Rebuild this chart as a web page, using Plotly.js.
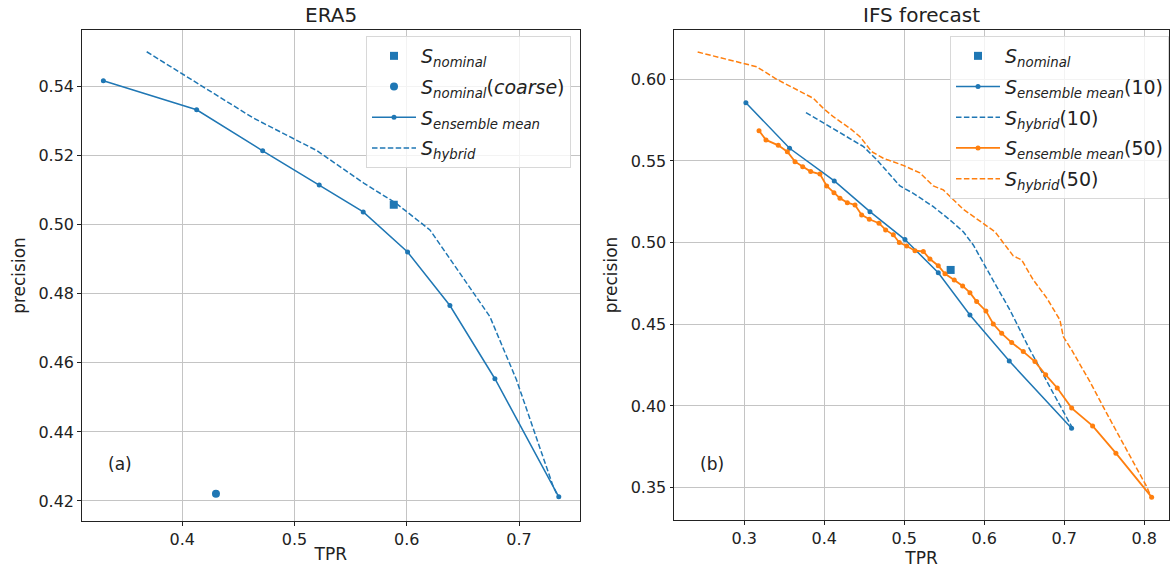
<!DOCTYPE html>
<html>
<head>
<meta charset="utf-8">
<script src="https://cdn.plot.ly/plotly-3.0.1.min.js"></script>
<style>html,body{margin:0;padding:0;background:#fff;}#chart{width:1170px;height:569px;}</style>
</head>
<body>
<div id="chart"></div>
<script>
// ---------- (a) ERA5 ----------
const era5NominalTPR = [0.5884];
const era5NominalPrec = [0.5058];
const era5CoarseTPR = [0.430];
const era5CoarsePrec = [0.4221];
const era5EnsTPR = [0.3297, 0.4128, 0.4716, 0.5220, 0.5612, 0.6007, 0.6384, 0.6785, 0.7354];
const era5EnsPrec = [0.5417, 0.5333, 0.5214, 0.5115, 0.5037, 0.4921, 0.4766, 0.4554, 0.4212];
const era5HybTPR = [0.3683, 0.4633, 0.5197, 0.5620, 0.5905, 0.6206, 0.6740, 0.6977, 0.7304, 0.7348];
const era5HybPrec = [0.5501, 0.5309, 0.5215, 0.5120, 0.5062, 0.4985, 0.4734, 0.4551, 0.4242, 0.4213];

// ---------- (b) IFS forecast ----------
const ifsNominalTPR = [0.558];
const ifsNominalPrec = [0.4833];
const ens10TPR = [0.302, 0.3566, 0.4125, 0.4571, 0.5009, 0.5425, 0.5821, 0.6313, 0.7092];
const ens10Prec = [0.5857, 0.5578, 0.5378, 0.5190, 0.5019, 0.4816, 0.4557, 0.4275, 0.3864];
const hyb10TPR = [0.3771, 0.3991, 0.4241, 0.4491, 0.4659, 0.4946, 0.5113, 0.5363, 0.5571, 0.5738, 0.5863, 0.5988, 0.6155, 0.6321, 0.6550, 0.6863, 0.7093];
const hyb10Prec = [0.5796, 0.5731, 0.5659, 0.5588, 0.5506, 0.5347, 0.5302, 0.5220, 0.5139, 0.5067, 0.4986, 0.4874, 0.4731, 0.4588, 0.4364, 0.4078, 0.3874];
const ens50TPR = [0.3184, 0.3271, 0.3425, 0.3538, 0.3634, 0.3730, 0.3830, 0.3946, 0.4030, 0.4121, 0.4196, 0.4288, 0.4384, 0.4467, 0.4563, 0.4684, 0.4767, 0.4863, 0.4938, 0.5030, 0.5134, 0.5238, 0.5321, 0.5425, 0.5509, 0.5625, 0.5730, 0.5821, 0.5905, 0.6021, 0.6113, 0.6218, 0.6343, 0.6488, 0.6634, 0.6768, 0.6913, 0.7093, 0.7355, 0.7646, 0.8093];
const ens50Prec = [0.5685, 0.5629, 0.5596, 0.5557, 0.5496, 0.5465, 0.5435, 0.5420, 0.5347, 0.5306, 0.5272, 0.5245, 0.5231, 0.5170, 0.5143, 0.5119, 0.5078, 0.5048, 0.5001, 0.4980, 0.4951, 0.4946, 0.4900, 0.4859, 0.4809, 0.4772, 0.4735, 0.4694, 0.4639, 0.4582, 0.4502, 0.4445, 0.4388, 0.4333, 0.4272, 0.4191, 0.4110, 0.3987, 0.3878, 0.3711, 0.3442];
const hyb50TPR = [0.2417, 0.3009, 0.3155, 0.3405, 0.3655, 0.3863, 0.3988, 0.4113, 0.4321, 0.4446, 0.4593, 0.4738, 0.4988, 0.5196, 0.5363, 0.5488, 0.5738, 0.6009, 0.6134, 0.6363, 0.6468, 0.6613, 0.6780, 0.6946, 0.6988, 0.7093, 0.7321, 0.7530, 0.7738, 0.8030, 0.8084];
const hyb50Prec = [0.6167, 0.6098, 0.6077, 0.6000, 0.5935, 0.5884, 0.5822, 0.5771, 0.5700, 0.5649, 0.5557, 0.5517, 0.5473, 0.5427, 0.5347, 0.5323, 0.5204, 0.5108, 0.5067, 0.4919, 0.4894, 0.4772, 0.4662, 0.4527, 0.4425, 0.4343, 0.4149, 0.3956, 0.3772, 0.3507, 0.3446];

const panelTitles = ["ERA5", "IFS forecast"];
const panelLetters = ["(a)", "(b)"];
const xTitle = "TPR";
const yTitle = "precision";

const BLUE = "#1f77b4", ORANGE = "#ff7f0e";
const DASH = "5.5px,2.4px";
const S = (sub, extra) => "<i>S</i><sub><i>" + sub + "</i></sub>" + (extra || "");

const traces = [
  {x: era5NominalTPR, y: era5NominalPrec, mode: "markers", name: S("nominal"), legendgroup: "a1",
   marker: {symbol: "square", size: 8, color: BLUE}, xaxis: "x", yaxis: "y", legend: "legend"},
  {x: era5CoarseTPR, y: era5CoarsePrec, mode: "markers", name: S("nominal", "(<i>coarse</i>)"), legendgroup: "a2",
   marker: {symbol: "circle", size: 8, color: BLUE}, xaxis: "x", yaxis: "y", legend: "legend"},
  {x: era5EnsTPR, y: era5EnsPrec, mode: "lines+markers", name: S("ensemble mean"), legendgroup: "a3",
   line: {color: BLUE, width: 1.5}, marker: {size: 5, color: BLUE}, xaxis: "x", yaxis: "y", legend: "legend"},
  {x: era5HybTPR, y: era5HybPrec, mode: "lines", name: S("hybrid"), legendgroup: "a4",
   line: {color: BLUE, width: 1.5, dash: DASH}, xaxis: "x", yaxis: "y", legend: "legend"},

  {x: ifsNominalTPR, y: ifsNominalPrec, mode: "markers", name: S("nominal"), legendgroup: "b1",
   marker: {symbol: "square", size: 8, color: BLUE}, xaxis: "x2", yaxis: "y2", legend: "legend2"},
  {x: ens10TPR, y: ens10Prec, mode: "lines+markers", name: S("ensemble mean", "(10)"), legendgroup: "b2",
   line: {color: BLUE, width: 1.5}, marker: {size: 5, color: BLUE}, xaxis: "x2", yaxis: "y2", legend: "legend2"},
  {x: hyb10TPR, y: hyb10Prec, mode: "lines", name: S("hybrid", "(10)"), legendgroup: "b3",
   line: {color: BLUE, width: 1.5, dash: DASH}, xaxis: "x2", yaxis: "y2", legend: "legend2"},
  {x: ens50TPR, y: ens50Prec, mode: "lines+markers", name: S("ensemble mean", "(50)"), legendgroup: "b4",
   line: {color: ORANGE, width: 1.8}, marker: {size: 5, color: ORANGE}, xaxis: "x2", yaxis: "y2", legend: "legend2"},
  {x: hyb50TPR, y: hyb50Prec, mode: "lines", name: S("hybrid", "(50)"), legendgroup: "b5",
   line: {color: ORANGE, width: 1.5, dash: DASH}, xaxis: "x2", yaxis: "y2", legend: "legend2"}
];

const W = 1170, H = 569;
const px = v => v / W;
const py = v => 1 - v / H;
const FONT = "DejaVu Sans, sans-serif";
const titleFont = {family: FONT, size: 17, color: "#222"};

const axisCommon = {
  showgrid: true, gridcolor: "#c4c4c4", gridwidth: 1,
  showline: true, linecolor: "#222", linewidth: 1, mirror: true,
  ticks: "outside", ticklen: 3.5, tickcolor: "#222",
  zeroline: false, tickfont: {family: FONT, size: 16, color: "#222"}
};

const legendCommon = {
  xanchor: "right", yanchor: "top",
  bgcolor: "rgba(255,255,255,0.8)", bordercolor: "#d8d8d8", borderwidth: 1,
  font: {family: FONT, size: 19, color: "#222"}, itemwidth: 44, tracegroupgap: 3
};

const layout = {
  width: W, height: H,
  margin: {l: 0, r: 0, t: 0, b: 0},
  paper_bgcolor: "#fff", plot_bgcolor: "#fff",
  font: {family: FONT, color: "#222"},
  showlegend: true,
  xaxis: Object.assign({}, axisCommon, {
    domain: [px(81.7), px(580)], range: [0.3104, 0.7543], tick0: 0.4, dtick: 0.1, tickformat: ".1f", anchor: "y",
    title: {text: xTitle, standoff: 0, font: titleFont}
  }),
  yaxis: Object.assign({}, axisCommon, {
    domain: [py(521), py(30)], range: [0.4142, 0.5564], tick0: 0.42, dtick: 0.02, tickformat: ".2f",
    anchor: "x", title: {text: yTitle, standoff: 8, font: titleFont}
  }),
  xaxis2: Object.assign({}, axisCommon, {
    domain: [px(674), px(1169)], range: [0.2121, 0.831], tick0: 0.3, dtick: 0.1, tickformat: ".1f", anchor: "y2",
    title: {text: xTitle, standoff: 0, font: titleFont}
  }),
  yaxis2: Object.assign({}, axisCommon, {
    domain: [py(520), py(30)], range: [0.3302, 0.6302], tick0: 0.35, dtick: 0.05, tickformat: ".2f",
    anchor: "x2", title: {text: yTitle, standoff: 8, font: titleFont}
  }),
  legend: Object.assign({}, legendCommon, {x: px(571), y: py(36)}),
  legend2: Object.assign({}, legendCommon, {x: px(1169), y: py(36)}),
  annotations: [
    {text: panelTitles[0], xref: "paper", yref: "paper", x: px(330.8), y: py(15), xanchor: "center", yanchor: "middle",
     showarrow: false, font: {family: FONT, size: 20, color: "#222"}},
    {text: panelTitles[1], xref: "paper", yref: "paper", x: px(921.5), y: py(15), xanchor: "center", yanchor: "middle",
     showarrow: false, font: {family: FONT, size: 20, color: "#222"}},
    {text: panelLetters[0], xref: "x", yref: "y", x: 0.332, y: 0.4306, xanchor: "left", yanchor: "middle",
     showarrow: false, font: {family: FONT, size: 17, color: "#222"}},
    {text: panelLetters[1], xref: "x2", yref: "y2", x: 0.2421, y: 0.3646, xanchor: "left", yanchor: "middle",
     showarrow: false, font: {family: FONT, size: 17, color: "#222"}}
  ]
};

Plotly.newPlot("chart", traces, layout, {displayModeBar: false, staticPlot: true});
</script>
</body>
</html>
